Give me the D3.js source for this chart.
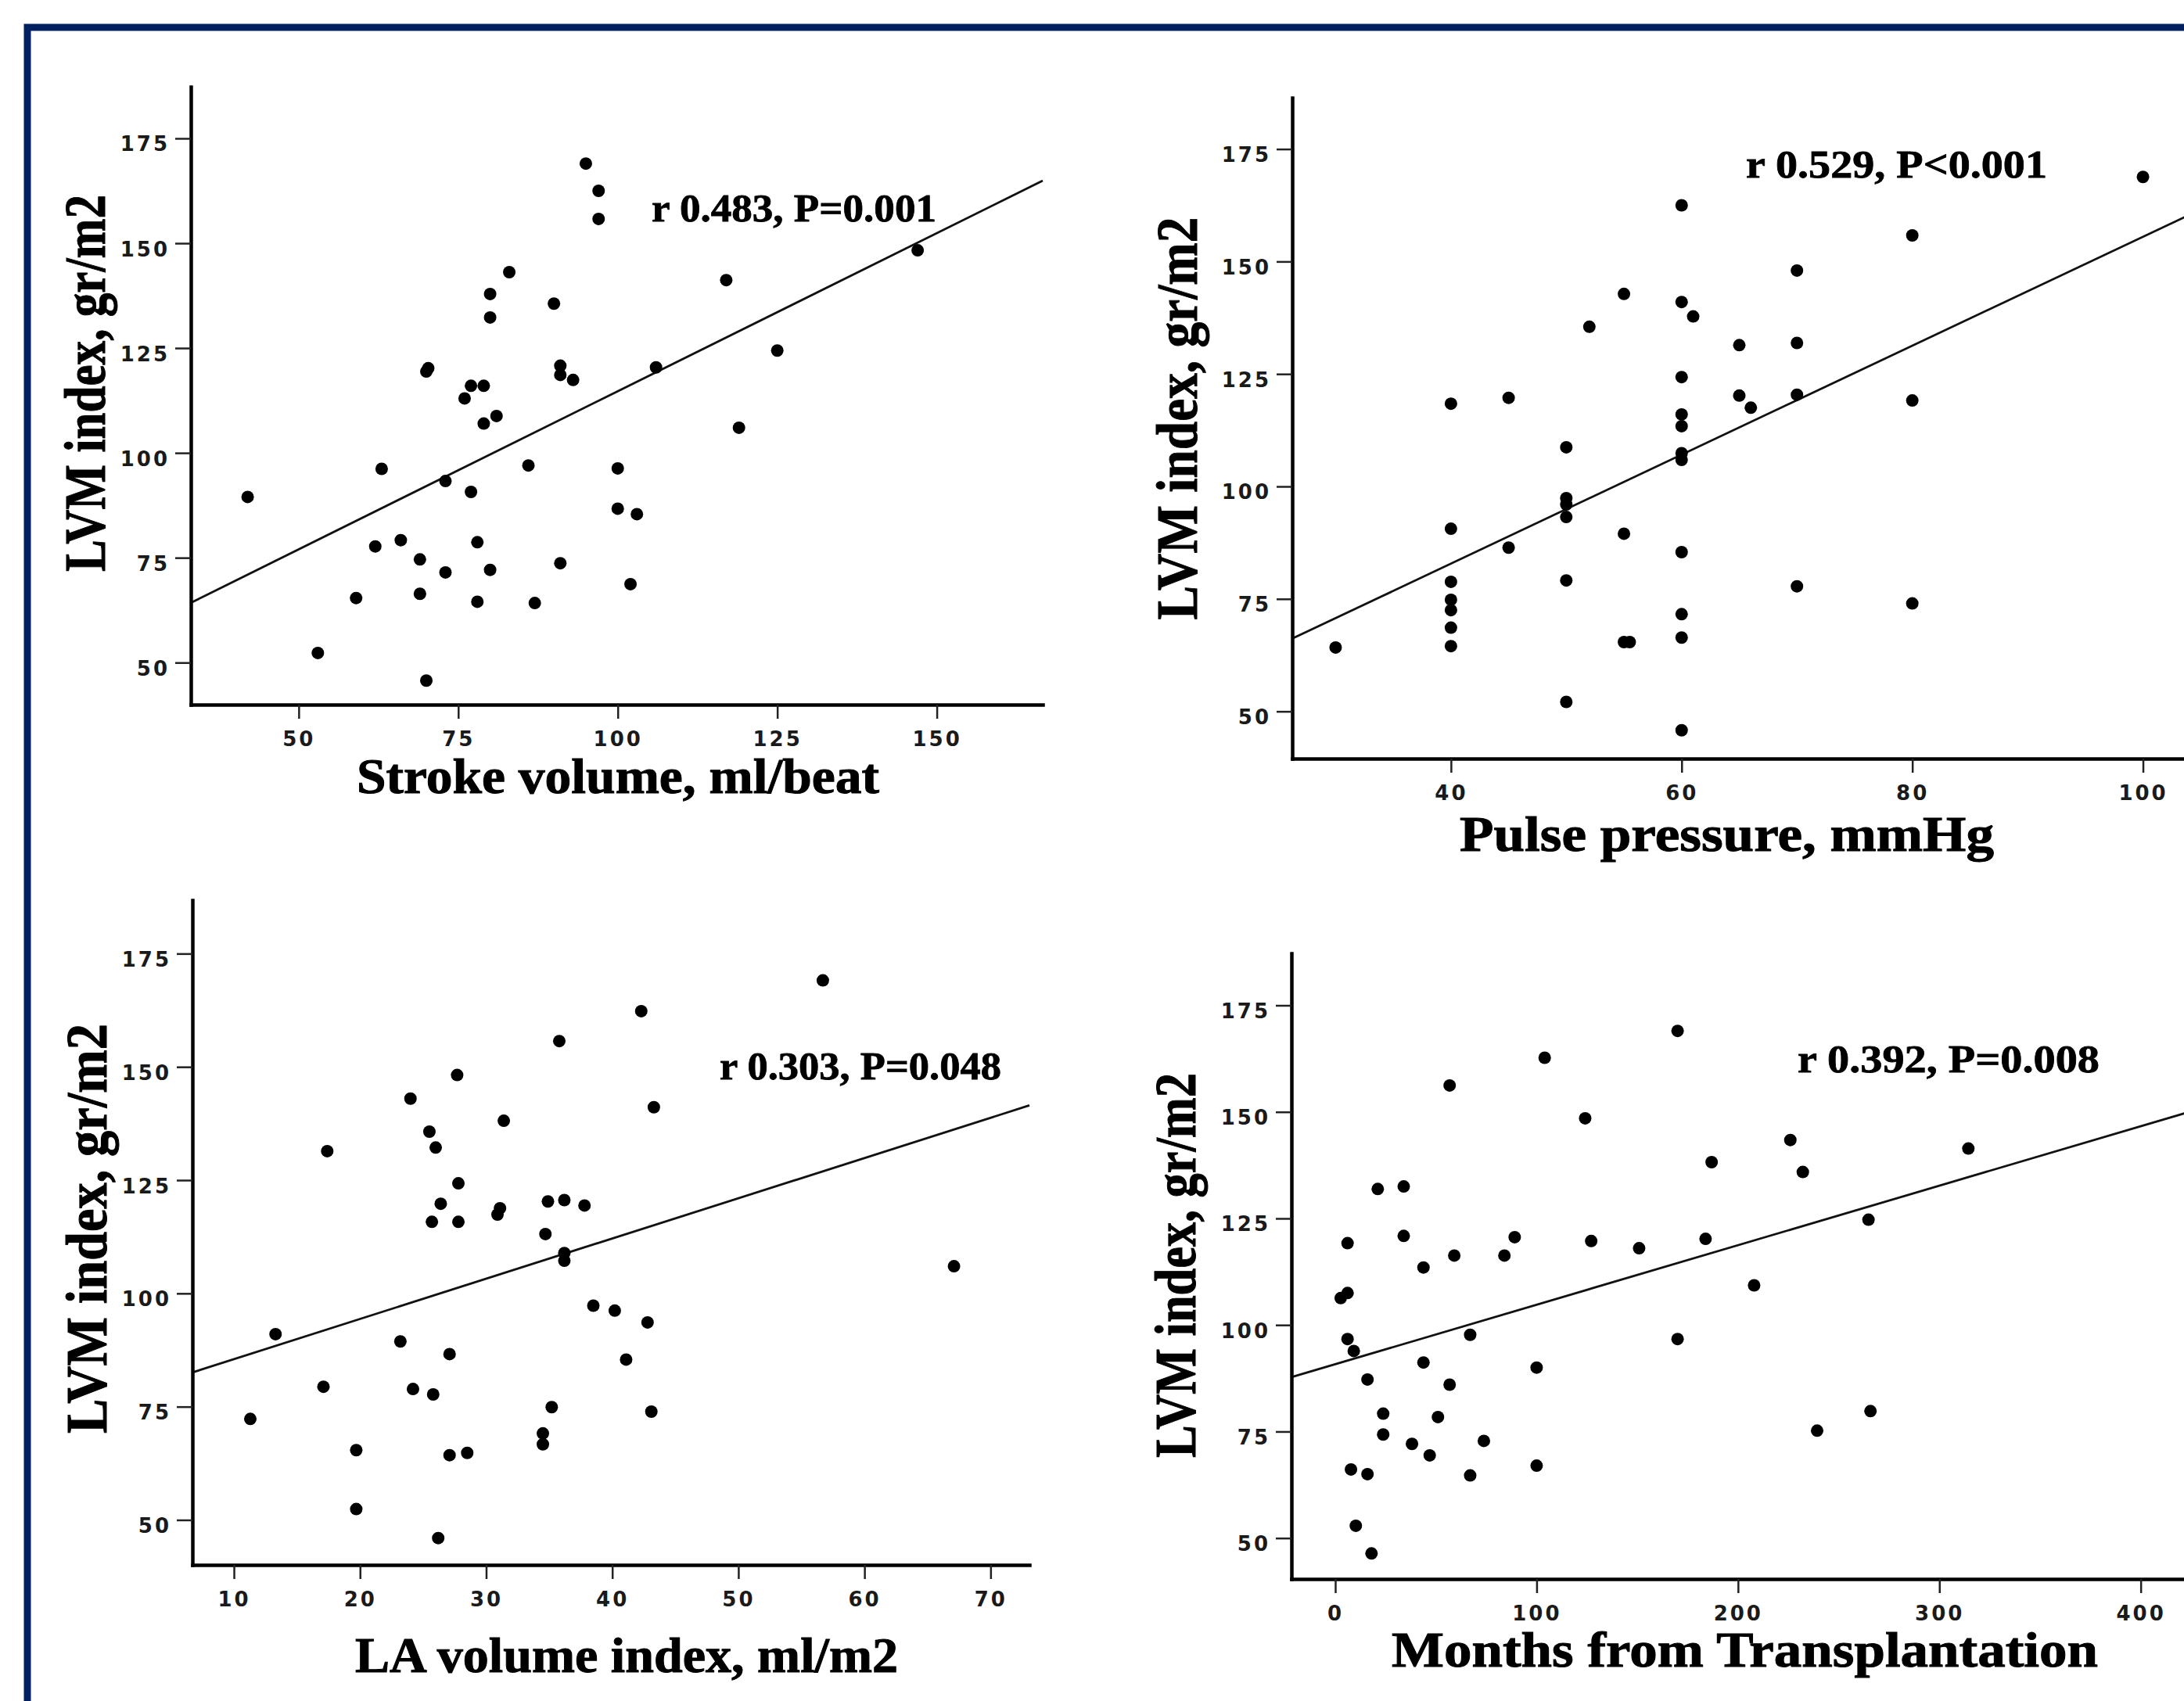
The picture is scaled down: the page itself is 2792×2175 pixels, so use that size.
<!DOCTYPE html>
<html>
<head>
<meta charset="utf-8">
<script src="https://cdn.jsdelivr.net/npm/d3@7"></script>
<style>
  body { margin: 0; background: #fff; }
</style>
</head>
<body>
<svg id="chart" width="2792" height="2175"></svg>
<script>
// LVM index vs four predictors
var strokeVolume = [42, 53, 59, 62, 63, 66, 69, 69, 70, 70, 70.3, 73, 73, 76, 77, 77, 78, 78, 79, 79, 80, 80, 80, 81, 83, 86, 87, 90, 91, 91, 91, 93, 95, 97, 97, 100, 100, 103, 102, 106, 117, 119, 125, 147];
var lvmByStroke = [89.5, 52.3, 65.4, 77.7, 96.2, 79.2, 74.6, 66.4, 119.4, 45.7, 120.2, 93.3, 71.5, 113.0, 116.0, 90.7, 78.7, 64.5, 116.0, 107.0, 137.9, 132.3, 72.1, 108.8, 143.1, 97.0, 64.2, 135.6, 120.8, 118.6, 73.7, 117.4, 169.0, 162.5, 155.8, 96.3, 86.7, 85.4, 68.7, 120.4, 141.2, 106.0, 124.4, 148.3];

var pulsePressure = [30, 40, 40, 40, 40, 40, 40, 40, 45, 45, 50, 50, 50, 50, 50, 50, 52, 55, 55, 55, 55.5, 60, 60, 60, 60, 60, 60, 60, 60, 60, 60, 60, 61, 65, 65, 66, 70, 70, 70, 70, 80, 80, 80, 100];
var lvmByPulse = [64.2, 118.4, 90.6, 78.8, 74.8, 72.5, 68.6, 64.5, 119.7, 86.4, 108.7, 97.4, 96.0, 93.2, 79.1, 52.1, 135.5, 142.8, 89.5, 65.4, 65.4, 162.5, 141.0, 124.3, 116.0, 113.4, 107.4, 105.9, 85.4, 71.6, 66.4, 45.8, 137.8, 131.4, 120.2, 117.5, 148.0, 131.9, 120.4, 77.8, 155.8, 119.1, 74.0, 168.8];

var laVolume = [11.3, 13.3, 17.1, 17.4, 19.7, 19.7, 23.2, 24.0, 24.2, 25.5, 25.7, 25.8, 26.0, 26.2, 26.4, 27.1, 27.1, 27.7, 27.8, 27.8, 28.5, 30.9, 31.1, 31.4, 34.7, 34.5, 34.5, 34.9, 35.2, 35.8, 36.2, 36.2, 36.2, 37.8, 38.5, 40.2, 41.1, 42.3, 42.8, 43.1, 43.3, 56.7, 67.1];
var lvmByLa = [72.3, 91.0, 79.4, 131.4, 65.4, 52.4, 89.4, 143.0, 78.9, 135.7, 115.8, 77.7, 132.2, 46.0, 119.8, 86.6, 64.3, 148.2, 124.3, 115.8, 64.8, 117.4, 118.8, 138.1, 113.1, 69.1, 66.7, 120.3, 74.9, 155.7, 120.6, 108.9, 107.2, 119.4, 97.3, 96.2, 85.4, 162.3, 93.6, 73.9, 141.1, 169.1, 106.0];

var monthsTx = [2.7, 6.1, 6.1, 6.1, 9.2, 7.8, 10.2, 16, 16, 18, 21.1, 23.8, 23.8, 34, 34, 38.1, 43.8, 43.8, 46.9, 51, 56.8, 56.8, 59.1, 67, 67, 73.8, 84, 89.1, 100, 100, 104, 124.1, 127.1, 150.9, 170, 170, 183.9, 186.9, 208, 226, 232.2, 239.3, 264.8, 265.8, 314.4];
var lvmByMonths = [106.3, 107.5, 119.2, 96.7, 93.9, 66.1, 52.9, 87.2, 65.0, 46.4, 131.9, 79.2, 74.3, 132.5, 120.9, 72.1, 113.5, 91.2, 69.4, 78.4, 156.2, 86.0, 116.3, 97.7, 64.7, 72.8, 116.3, 120.6, 90.0, 67.0, 162.7, 148.5, 119.7, 118.0, 169.0, 96.7, 120.2, 138.2, 109.3, 143.4, 135.9, 75.2, 124.7, 79.8, 141.4];

// fitted lines [intercept, slope]
var fitStroke = [39.3, 0.754];
var fitPulse = [34.4, 1.211];
var fitLa = [76.6, 0.888];
var fitMonths = [90.8, 0.1396];

var statLabels = ["r 0.483, P=0.001", "r 0.529, P<0.001", "r 0.303, P=0.048", "r 0.392, P=0.008"];
var xTitles = ["Stroke volume, ml/beat", "Pulse pressure, mmHg", "LA volume index, ml/m2", "Months from Transplantation"];
var yTitle = "LVM index, gr/m2";

var yTicks = [50, 75, 100, 125, 150, 175];
var strokeTicks = [50, 75, 100, 125, 150];
var pulseTicks = [40, 60, 80, 100];
var laTicks = [10, 20, 30, 40, 50, 60, 70];
var monthTicks = [0, 100, 200, 300, 400];

var svg = d3.select("#chart");
var serif = "'Liberation Serif', 'Times New Roman', serif";

// page frame
svg.append("rect")
  .attr("x", 35).attr("y", 35)
  .attr("width", 2900).attr("height", 2300)
  .attr("fill", "none")
  .attr("stroke", "#002060")
  .attr("stroke-width", 9);

// panel layout (pixels)
var panels = [
  { xs: strokeVolume, ys: lvmByStroke, fit: fitStroke, xticks: strokeTicks, stat: statLabels[0], xTitle: xTitles[0],
    left: 244, right: 1333, top: 111, bottom: 901, xDom: [33.1, 166.6], yDom: [39.97, 187.3],
    statX: 833, statY: 283, statW: 364, xtX: 456, xtW: 668, xtY: 1014, ytX: 134, ytY: 490, ytW: 482 },
  { xs: pulsePressure, ys: lvmByPulse, fit: fitPulse, xticks: pulseTicks, stat: statLabels[1], xTitle: xTitles[1],
    left: 1652, right: 2800, top: 125, bottom: 970, xDom: [26.24, 104.1], yDom: [39.5, 186.4],
    statX: 2232, statY: 227, statW: 385, xtX: 1866, xtW: 683, xtY: 1088, ytX: 1530, ytY: 535, ytW: 515 },
  { xs: laVolume, ys: lvmByLa, fit: fitLa, xticks: laTicks, stat: statLabels[2], xTitle: xTitles[2],
    left: 246, right: 1316, top: 1151, bottom: 2001, xDom: [6.71, 73.08], yDom: [40.07, 186.8],
    statX: 920, statY: 1380, statW: 360, xtX: 454, xtW: 694, xtY: 2138, ytX: 136, ytY: 1571, ytW: 524 },
  { xs: monthsTx, ys: lvmByMonths, fit: fitMonths, xticks: monthTicks, stat: statLabels[3], xTitle: xTitles[3],
    left: 1651, right: 2800, top: 1219, bottom: 2019, xDom: [-21.75, 424.6], yDom: [40.4, 187.2],
    statX: 2298, statY: 1371, statW: 386, xtX: 1779, xtW: 903, xtY: 2131, ytX: 1528, ytY: 1618, ytW: 492 }
];

panels.forEach(function(p) {
  var x = d3.scaleLinear().domain(p.xDom).range([p.left, p.right]);
  var y = d3.scaleLinear().domain(p.yDom).range([p.bottom, p.top]);

  // fit line
  svg.append("line")
    .attr("x1", x(p.xDom[0])).attr("y1", y(p.fit[0] + p.fit[1] * p.xDom[0]))
    .attr("x2", x(p.xDom[1])).attr("y2", y(p.fit[0] + p.fit[1] * p.xDom[1]))
    .attr("stroke", "#111")
    .attr("stroke-width", 2.8);

  // points
  svg.append("g").selectAll("circle")
    .data(p.xs.map(function(v, i) { return [v, p.ys[i]]; }))
    .enter()
    .append("circle")
    .attr("cx", function(d) { return x(d[0]); })
    .attr("cy", function(d) { return y(d[1]); })
    .attr("r", 8)
    .attr("fill", "#000");

  // axes
  var xAxis = svg.append("g")
    .attr("transform", "translate(0," + p.bottom + ")")
    .call(d3.axisBottom(x).tickValues(p.xticks).tickSize(18).tickSizeOuter(0));
  var yAxis = svg.append("g")
    .attr("transform", "translate(" + p.left + ",0)")
    .call(d3.axisLeft(y).tickValues(yTicks).tickSize(20).tickSizeOuter(0));

  [xAxis, yAxis].forEach(function(a) {
    a.select(".domain").attr("stroke", "#000").attr("stroke-width", 4.5).attr("stroke-linecap", "square");
    a.selectAll(".tick line").attr("stroke", "#222").attr("stroke-width", 2.5);
    a.selectAll("text")
      .attr("font-family", "'DejaVu Sans', Verdana, sans-serif")
      .attr("font-weight", "bold")
      .attr("font-size", 26)
      .attr("letter-spacing", 3)
      .attr("fill", "#1a1a1a");
  });
  xAxis.selectAll("text").attr("y", 53).attr("dy", 0);
  yAxis.selectAll("text").attr("x", -27).attr("dy", 0).attr("y", 16);

  // stat label
  svg.append("text")
    .attr("x", p.statX).attr("y", p.statY)
    .attr("font-family", serif).attr("font-weight", "bold")
    .attr("font-size", 51)
    .attr("stroke", "#000").attr("stroke-width", 0.8)
    .attr("textLength", p.statW).attr("lengthAdjust", "spacingAndGlyphs")
    .text(p.stat);

  // axis titles
  svg.append("text")
    .attr("x", p.xtX).attr("y", p.xtY)
    .attr("font-family", serif).attr("font-weight", "bold")
    .attr("font-size", 63)
    .attr("stroke", "#000").attr("stroke-width", 1)
    .attr("textLength", p.xtW).attr("lengthAdjust", "spacingAndGlyphs")
    .text(p.xTitle);

  svg.append("text")
    .attr("transform", "translate(" + p.ytX + "," + p.ytY + ") rotate(-90)")
    .attr("text-anchor", "middle")
    .attr("font-family", serif).attr("font-weight", "bold")
    .attr("font-size", 74)
    .attr("stroke", "#000").attr("stroke-width", 1)
    .attr("textLength", p.ytW).attr("lengthAdjust", "spacingAndGlyphs")
    .text(yTitle);
});
</script>
</body>
</html>
